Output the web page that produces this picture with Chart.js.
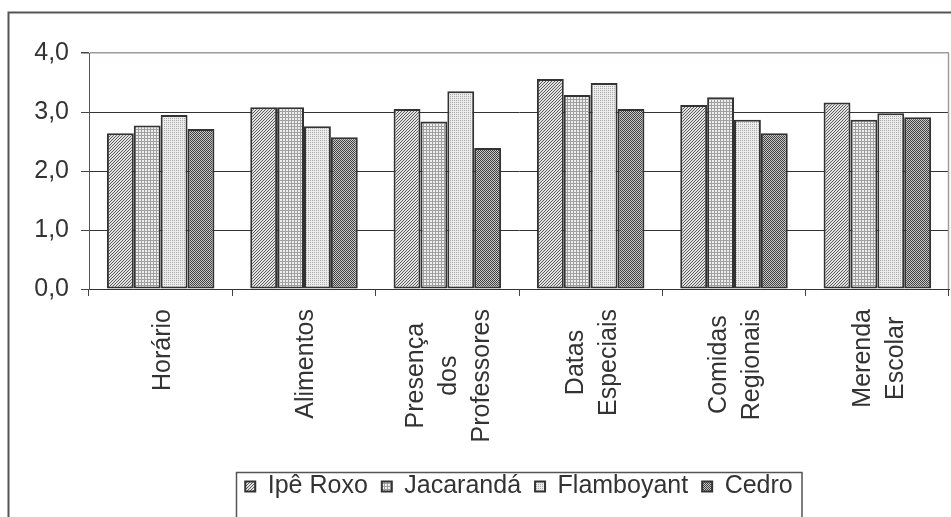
<!DOCTYPE html>
<html>
<head>
<meta charset="utf-8">
<script src="https://cdn.jsdelivr.net/npm/chart.js@4.4.1/dist/chart.umd.min.js"></script>
<style>
  html, body { margin: 0; padding: 0; background: #fff; }
  #chart_container { width: 951px; height: 517px; }
</style>
</head>
<body>
<div id="chart_container"><canvas id="myChart" width="951" height="517"></canvas></div>
<script>
const categories = [
    ["Horário"],
    ["Alimentos"],
    ["Presença", "dos", "Professores"],
    ["Datas", "Especiais"],
    ["Comidas", "Regionais"],
    ["Merenda", "Escolar"]
];
const seriesNames = ["Ipê Roxo", "Jacarandá", "Flamboyant", "Cedro"];
const ipeRoxo = [2.64, 3.08, 3.05, 3.56, 3.12, 3.16];
const jacaranda = [2.77, 3.08, 2.84, 3.29, 3.25, 2.87];
const flamboyant = [2.95, 2.76, 3.35, 3.49, 2.87, 2.98];
const cedro = [2.71, 2.57, 2.39, 3.05, 2.64, 2.91];
const yTicks = [0, 1, 2, 3, 4];

const FONT = '"Liberation Sans", Arial, sans-serif';

// small tiles for the grey fill patterns
function makePattern(size, bg, fg, cells) {
    const c = document.createElement("canvas");
    c.width = size;
    c.height = size;
    const g = c.getContext("2d");
    g.fillStyle = bg;
    g.fillRect(0, 0, size, size);
    g.fillStyle = fg;
    cells.forEach(([x, y]) => g.fillRect(x, y, 1, 1));
    return document.getElementById("myChart").getContext("2d").createPattern(c, "repeat");
}

const patterns = [
    makePattern(3, "#e2e2e2", "#5c5c5c", [[0, 2], [1, 1], [2, 0]]),
    makePattern(3, "#eeeeee", "#a0a0a0", [[0, 0], [1, 0], [2, 0], [0, 1], [0, 2]]),
    makePattern(2, "#ececec", "#a8a8a8", [[0, 0]]),
    makePattern(2, "#c8c8c8", "#404040", [[0, 0], [1, 1]])
];

const seriesValues = [ipeRoxo, jacaranda, flamboyant, cedro];

const framePlugin = {
    id: "frame",
    beforeDraw(chart) {
        const ctx = chart.ctx;
        ctx.save();
        ctx.fillStyle = "#fff";
        ctx.fillRect(0, 0, chart.width, chart.height);
        ctx.strokeStyle = "#555";
        ctx.lineWidth = 2;
        ctx.strokeRect(8.5, 12.5, chart.width + 20, chart.height + 20);
        ctx.restore();
    },
    afterDraw(chart) {
        const ctx = chart.ctx;
        const area = chart.chartArea;
        const x = chart.scales.x;
        ctx.save();

        // right edge of plot area
        ctx.strokeStyle = "#a09a9a";
        ctx.lineWidth = 1.5;
        ctx.beginPath();
        ctx.moveTo(area.right - 0.5, area.top);
        ctx.lineTo(area.right - 0.5, area.bottom);
        ctx.stroke();

        // rotated, centred category labels
        ctx.font = "25px " + FONT;
        ctx.fillStyle = "#333";
        ctx.textAlign = "center";
        ctx.textBaseline = "middle";
        categories.forEach((lines, i) => {
            const xc = x.getPixelForValue(i);
            const maxW = Math.max(...lines.map(l => ctx.measureText(l).width));
            const yc = area.bottom + 20 + maxW / 2;
            lines.forEach((line, j) => {
                const cx = xc + (j - (lines.length - 1) / 2) * 33;
                ctx.save();
                ctx.translate(cx + 2, yc);
                ctx.rotate(-Math.PI / 2);
                ctx.fillText(line, 0, 0);
                ctx.restore();
            });
        });

        // box round the legend
        const boxes = chart.legend.legendHitBoxes;
        if (boxes.length) {
            const left = boxes[0].left - 9;
            const last = boxes[boxes.length - 1];
            const right = last.left + last.width + 9;
            ctx.strokeStyle = "#555";
            ctx.lineWidth = 1.5;
            ctx.strokeRect(Math.round(left) + 0.5, 472.5, right - left, 100);
        }
        ctx.restore();
    }
};

const ctx = document.getElementById("myChart").getContext("2d");

const chart = new Chart(ctx, {
    type: "bar",
    data: {
        labels: categories,
        datasets: seriesNames.map((name, k) => ({
            label: name,
            data: seriesValues[k],
            backgroundColor: patterns[k],
            borderColor: "#333",
            borderWidth: 2,
            borderSkipped: false,
            categoryPercentage: 0.75,
            barPercentage: 1.0
        }))
    },
    options: {
        responsive: false,
        devicePixelRatio: 1,
        animation: false,
        layout: { padding: { top: 53, right: 2, left: 0, bottom: 8 } },
        plugins: {
            tooltip: { enabled: false },
            legend: {
                position: "bottom",
                fullSize: false,
                onClick: null,
                labels: {
                    font: { size: 25, family: FONT },
                    color: "#333",
                    boxWidth: 10,
                    boxHeight: 10,
                    padding: 14
                }
            }
        },
        scales: {
            x: {
                ticks: { display: false },
                grid: {
                    offset: true,
                    drawOnChartArea: false,
                    drawTicks: true,
                    tickLength: 7,
                    color: "#444"
                },
                border: { color: "#333", width: 1 },
                afterFit: (scale) => { scale.height = 171; }
            },
            y: {
                min: 0,
                max: 4,
                afterBuildTicks: (scale) => { scale.ticks = yTicks.map(v => ({ value: v })); },
                ticks: {
                    padding: 12,
                    color: "#333",
                    font: { size: 25, family: FONT },
                    callback: (v) => v.toFixed(1).replace(".", ",")
                },
                grid: {
                    color: (c) => (c.tick && c.tick.value === 4 ? "#a09a9a" : "#333"),
                    lineWidth: (c) => (c.tick && c.tick.value === 4 ? 1.5 : 1),
                    tickLength: 8,
                    tickColor: "#444"
                },
                border: { color: "#555", width: 1 },
                afterFit: (scale) => { scale.width = 89; }
            }
        }
    },
    plugins: [framePlugin]
});
</script>
</body>
</html>
